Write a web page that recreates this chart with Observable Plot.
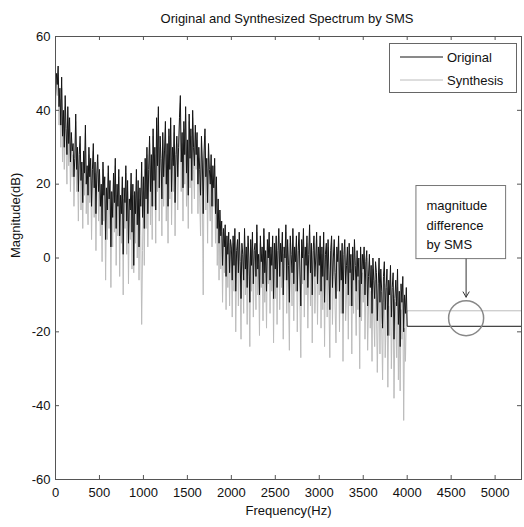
<!DOCTYPE html>
<html>
<head>
<meta charset="utf-8">
<script src="https://cdn.jsdelivr.net/npm/d3@7"></script>
<script src="https://cdn.jsdelivr.net/npm/@observablehq/plot@0.6"></script>
<style>
  body { margin: 0; background: #fff; font-family: "Liberation Sans", Arial, sans-serif; }
  #wrap { position: relative; width: 524px; height: 527px; }
  #title { height: 30px; line-height: 38px; text-align: center; font-size: 13px; color: #111; padding-left: 50px; box-sizing: border-box; }
  #legend { position: absolute; left: 389px; top: 43px; width: 128px; height: 50px; border: 1px solid #666; background: #fff; box-sizing: border-box; }
</style>
</head>
<body>
<div id="wrap">
  <div id="title">Original and Synthesized Spectrum by SMS</div>
  <div id="chart"></div>
  <div id="legend"></div>
</div>
<script>
// Spectrum values (dB), one every 10 Hz from 0 to 3990 Hz
const freqStep = 10;
const originalDb = [
  44, 50, 47, 52, 41, 46, 36, 49, 33, 40, 30, 44, 35, 28, 41, 31, 38, 26, 34, 29,
  31, 22, 27, 39, 24, 30, 18, 28, 33, 21, 26, 15, 29, 23, 36, 20, 25, 17, 30, 22,
  27, 14, 24, 31, 19, 26, 12, 23, 28, 18,
  24, 14, 20, 9, 26, 17, 22, 5, 19, 13, 25, 16, 21, 3, 18, 11, 23, 15, 27, 8,
  20, 14, 24, 6, 17, 12, 22, 1, 19, 15, 25, 10, 21, 4, 16, 13, 23, 7, 20, -2,
  18, 12, 24, 9, 21, 3, 19, 14, 26, 11,
  22, 8, 27, 16, 30, 12, 24, 33, 18, 28, 14, 35, 21, 30, 13, 38, 25, 41, 19, 33,
  27, 16, 34, 22, 29, 37, 20, 31, 14, 35, 24, 38, 18, 30, 25, 36, 15, 28, 33, 22,
  30, 38, 44, 26, 34, 19, 37, 28, 41, 23, 32, 17, 39, 27, 35, 21, 40, 30, 25, 36,
  28, 34, 20, 30, 24, 17, 33, 26, 12, 29, 35, 22, 27, 15, 31, 24, 20, 28, 14, 25,
  19, 27, 12, 22, 8, 16, 4, 13, 6, 10, -2, 8, 3, 9, -5, 6, 1, 7, -4, 5,
  3, -6, 6, -2, 8, -9, 2, 5, -4, 7, -1, -11, 4, 1, -6, 8, -3, 3, -8, 6,
  0, -12, 5, -2, 7, -7, 2, 4, -5, 9, -3, 1, -10, 6, -1, 3, -7, 8, -4, 2,
  -9, 5, 0, 7, -6, 3, -2, 6, -11, 4,
  -3, 6, -8, 2, 8, -5, 4, -1, 7, -10, 3, 0, 9, -6, 5, -2, -12, 6, 1, -4,
  8, -7, 3, -1, 6, -9, 2, 7, -3, -13, 5, 0, 8, -6, 3, -2, 6, -8, 1, 9,
  -4, 4, -10, 2, 6, -5, 0, 7, -7, 3,
  -2, 6, -9, 3, -5, 7, -12, 1, 4, -6, 5, -3, -14, 2, 6, -8, 0, 5, -4, -11,
  3, -1, 6, -9, 2, -6, 4, -15, 1, 5, -7, -2, 3, -10, 4, -4, 1, -13, 3, -6,
  5, -2, -9, 2, -5, 0, -16, 3, -7, 1,
  -3, 3, -10, -1, 2, -13, -5, 1, -8, -2, -15, 0, -6, -11, -1, -4, -17, -7, 0, -12,
  -3, -9, -19, -5, -1, -14, -8, -3, -21, -6, -10, -2, -16, -8, -4, -22, -11, -6, -13, -3,
  -18, -9, -24, -7, -12, -5, -20, -10, -15, -8
];
const synthesisDb = [
  40, 48, 44, 50, 36, 43, 30, 46, 26, 38, 24, 41, 30, 20, 38, 25, 35, 18, 31, 22,
  28, 14, 24, 37, 18, 27, 10, 25, 31, 13, 23, 8, 26, 17, 34, 12, 22, 9, 28, 15,
  24, 5, 21, 29, 11, 23, 2, 20, 26, 10,
  21, 6, 17, -1, 24, 10, 19, -6, 16, 5, 23, 8, 18, -8, 15, 3, 21, 7, 25, -2,
  17, 6, 22, -5, 14, 4, 19, -10, 16, 8, 23, 1, 18, -7, 13, 5, 20, -3, 17, -4,
  15, 4, 22, 0, 18, -6, 16, 6, -18, 2,
  18, -2, 24, 8, 28, 3, 21, 31, 9, 25, 5, 33, 14, 28, 4, 36, 18, 39, 10, 30,
  23, 6, 32, 14, 26, 35, 10, 28, 4, 33, 16, 36, 9, 27, 18, 34, 6, 25, 31, 13,
  25, 36, 42, 18, 31, 10, 35, 20, 39, 14, 29, 8, 37, 19, 33, 12, 38, 24, 16, 34,
  24, 32, 12, 27, 16, 6, 31, 18, -10, 26, 33, 13, 24, 4, 28, 16, 10, 25, 3, 21,
  14, 25, 4, 19, -2, 12, -6, 10, -3, 7, -12, 5, -4, 6, -14, 3, -8, 4, -13, 2,
  -1, -16, 4, -9, 6, -20, -2, 3, -13, 5, -7, -22, 2, -3, -15, 6, -10, 1, -18, 4,
  -5, -24, 3, -9, 5, -16, -1, 2, -14, 7, -10, -2, -21, 4, -8, 1, -17, 6, -12, -1,
  -19, 3, -7, 5, -15, 1, -9, 4, -23, 2,
  -11, 4, -18, -1, 6, -14, 2, -8, 5, -22, 1, -6, 7, -15, 3, -10, -25, 4, -3, -13,
  6, -17, 1, -9, 4, -20, 0, 5, -12, -27, 3, -7, 6, -16, 1, -10, 4, -19, -2, 7,
  -13, 2, -23, 0, 4, -15, -6, 5, -18, 1,
  -10, 4, -19, 1, -14, 5, -24, -1, 2, -16, 3, -12, -27, 0, 4, -18, -5, 3, -13, -23,
  1, -9, 4, -20, 0, -15, 2, -28, -2, 3, -17, -10, 1, -22, 2, -13, -3, -26, 1, -15,
  3, -9, -21, 0, -14, -6, -30, 1, -17, -4,
  -12, 1, -22, -8, 0, -25, -13, -1, -19, -9, -28, -3, -15, -24, -6, -12, -31, -16, -4, -26,
  -9, -18, -33, -12, -7, -27, -17, -8, -35, -13, -21, -6, -30, -16, -10, -38, -20, -12, -27, -8,
  -33, -18, -36, -14, -22, -11, -44, -19, -28, -15
];
// flat part above 4 kHz
const tailFreq = [4000, 5300];
const tailOriginal = [-18.5, -18.5];
const tailSynthesis = [-14.3, -14.3];

const xTicks = [0, 500, 1000, 1500, 2000, 2500, 3000, 3500, 4000, 4500, 5000];
const yTicks = [-60, -40, -20, 0, 20, 40, 60];
const seriesNames = ["Original", "Synthesis"];
const xLabel = "Frequency(Hz)";
const yLabel = "Magnitude(dB)";
const annotationText = "magnitude\ndifference\nby SMS";
const annotationBox = {x1: 4105, x2: 5125, y1: -0.3, y2: 19.5};
const annotationArrow = {x: 4670, y1: -0.3, y2: -10.6};
const annotationCircle = {x: 4670, y: -16.3};

const build = (vals, tail) =>
  vals.map((v, i) => ({f: i * freqStep, db: v})).concat(tailFreq.map((f, i) => ({f, db: tail[i]})));
const orig = build(originalDb, tailOriginal);
const synth = build(synthesisDb, tailSynthesis);

const W = 524, H = 497, mT = 6, mB = 48, mL = 55, mR = 3;
const ph = H - mT - mB, pw = W - mL - mR, tl = 4;
const colOrig = "#151515", colSynth = "#bcbcbc";
const font = "Liberation Sans, Arial, sans-serif";

const chart = Plot.plot({
  width: W, height: H,
  marginTop: mT, marginBottom: mB, marginLeft: mL, marginRight: mR,
  style: {fontFamily: font, fontSize: "13px", color: "#111", background: "#fff"},
  x: {domain: [0, 5300], label: null},
  y: {domain: [-60, 60], label: null},
  marks: [
    Plot.line(synth, {x: "f", y: "db", stroke: colSynth, strokeWidth: 1}),
    Plot.line(orig, {x: "f", y: "db", stroke: colOrig, strokeWidth: 1}),
    Plot.frame({stroke: "#555"}),
    Plot.tickX(xTicks, {x: d => d, insetTop: ph - tl, stroke: "#555"}),
    Plot.tickX(xTicks, {x: d => d, insetBottom: ph - tl, stroke: "#555"}),
    Plot.tickY(yTicks, {y: d => d, insetRight: pw - tl, stroke: "#555"}),
    Plot.tickY(yTicks, {y: d => d, insetLeft: pw - tl, stroke: "#555"}),
    Plot.axisX(xTicks, {tickSize: 0, tickPadding: 8, tickFormat: d => String(d), label: null, fontSize: 13}),
    Plot.axisY(yTicks, {tickSize: 0, tickPadding: 5, tickFormat: d => String(d), label: null, fontSize: 13}),
    Plot.text([xLabel], {frameAnchor: "bottom", dy: 35, text: d => d, fontSize: 13, fill: "#111"}),
    Plot.text([yLabel], {frameAnchor: "left", dx: -40, rotate: -90, text: d => d, fontSize: 13, fill: "#111"}),
    Plot.rect([annotationBox], {x1: "x1", x2: "x2", y1: "y1", y2: "y2", fill: "#fff", stroke: "#777"}),
    Plot.text([annotationText], {x: 4220, y: 9.3, text: d => d, textAnchor: "start", lineAnchor: "middle", lineHeight: 1.5, fontSize: 13, fill: "#111"}),
    Plot.arrow([annotationArrow], {x1: "x", x2: "x", y1: "y1", y2: "y2", stroke: "#333", headLength: 9, strokeWidth: 1}),
    Plot.dot([annotationCircle], {x: "x", y: "y", r: 17.5, stroke: "#888", fill: "none"})
  ]
});
document.getElementById("chart").appendChild(chart);

// legend
const leg = d3.select("#legend").append("svg").attr("width", 126).attr("height", 48);
const legColors = [colOrig, colSynth];
seriesNames.forEach((name, i) => {
  const y = 13 + i * 23;
  leg.append("line").attr("x1", 10).attr("x2", 53).attr("y1", y).attr("y2", y).attr("stroke", legColors[i]);
  leg.append("text").attr("x", 57).attr("y", y).attr("dy", "0.35em").attr("font-size", 13)
    .attr("font-family", font).attr("fill", "#111").text(name);
});
</script>
</body>
</html>
